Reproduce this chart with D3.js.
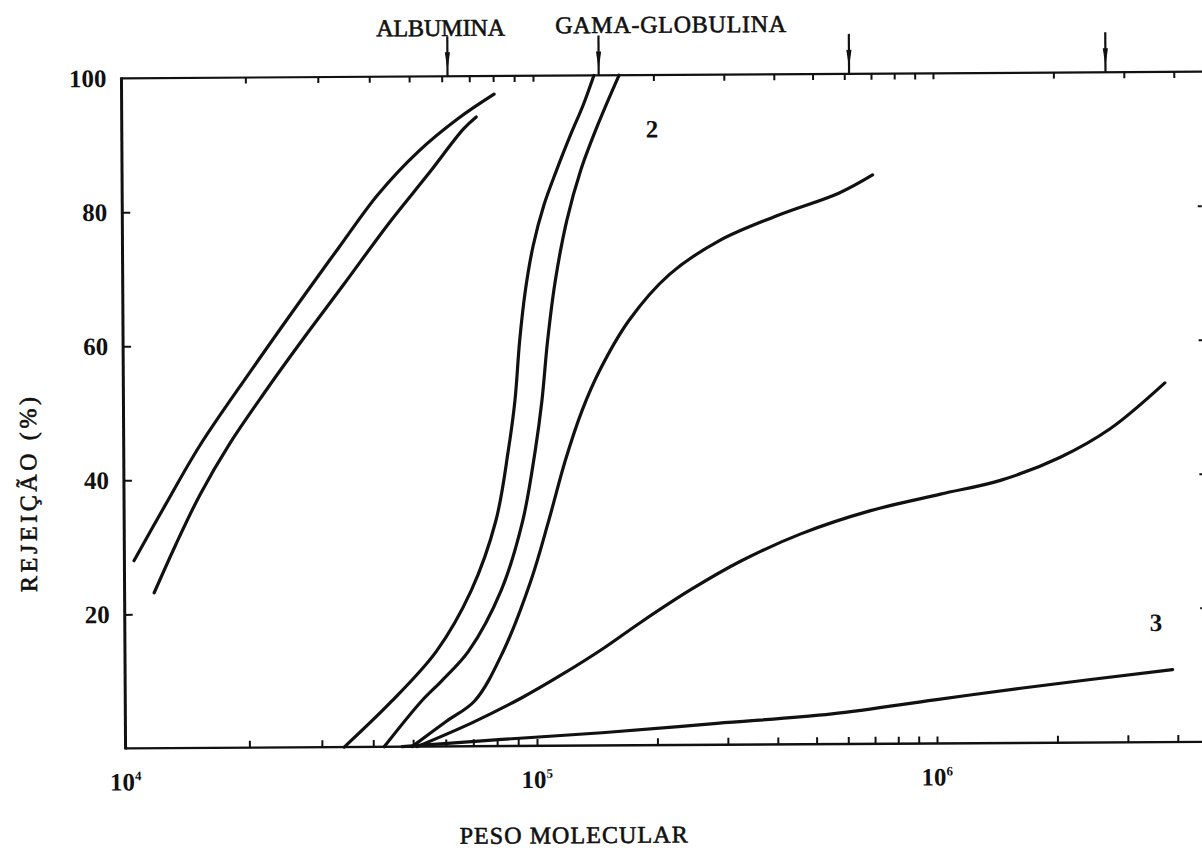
<!DOCTYPE html>
<html>
<head>
<meta charset="utf-8">
<script src="https://cdn.jsdelivr.net/npm/d3@7"></script>
<style>
body { margin: 0; background: #fff; }
svg { display: block; }
.type { font-family: "Liberation Serif", "Times New Roman", serif; font-size: 24px; fill: #111; stroke: #111; stroke-width: 0.6; }
.num { font-family: "Liberation Serif", "Times New Roman", serif; font-weight: bold; font-size: 25px; fill: #111; }
.curve { fill: none; stroke: #111; stroke-width: 3.2; stroke-linecap: round; }
</style>
</head>
<body>
<svg id="plot"></svg>
<script>
var width = 1202;
var height = 854;

// curves: [molecular weight, rejection %]
var curveA1 = [[10550, 28.0], [12600, 36.3], [15300, 45.1], [20300, 56.0], [26900, 66.5],
    [33600, 74.6], [41800, 82.4], [52500, 88.8], [65700, 93.7], [80400, 97.3]];
var curveA2 = [[11800, 23.2], [13300, 30.2], [15300, 37.8], [18100, 45.4], [22100, 53.1],
    [26900, 60.3], [34500, 69.1], [44400, 78.1], [55600, 85.5], [67600, 92.1], [72700, 93.9]];
var curveB1 = [[34000, 0], [44400, 6.8], [57100, 14.2], [69500, 23.2], [80000, 33.6], [86000, 44.1],
    [89400, 51.5], [92000, 60.5], [95100, 67.9], [99500, 74.6], [105900, 80.6], [114200, 85.9],
    [123800, 91.1], [133400, 95.6], [142000, 100]];
var curveB2 = [[42500, 0], [52500, 6.8], [58800, 9.8], [68400, 14.2], [82200, 23.2], [93000, 33.6],
    [100000, 44.1], [104100, 51.5], [107800, 60.5], [112900, 69.4], [120900, 78.4], [131100, 85.8],
    [145400, 92.8], [164100, 100]];
var curveB3 = [[49700, 0], [60400, 3.8], [70700, 6.8], [83100, 14.2], [97200, 24.7], [107800, 33.6],
    [118900, 42.6], [131100, 50.0], [145400, 56.0], [172800, 63.5], [217600, 70.2], [290100, 75.2],
    [409700, 79.0], [578800, 82.2], [703800, 84.9]];
var curveB4 = [[51100, 0], [69500, 3.5], [92000, 7.2], [115500, 10.6], [146200, 14.4], [183000, 18.4],
    [244100, 23.2], [325500, 27.4], [459800, 31.4], [687900, 34.8], [1029000, 37.2], [1454000, 39.2],
    [2054000, 42.6], [2738000, 46.8], [3758000, 53.6]];
var curveB5 = [[47000, 0], [82200, 1.0], [145400, 1.9], [281800, 3.2], [546500, 4.5], [988500, 6.5],
    [1641000, 8.2], [3890000, 10.8]];

var curves = [curveA1, curveA2, curveB1, curveB2, curveB3, curveB4, curveB5];

var curveLabels = ["2", "3"];
var curveLabelPos = [[198000, 92.0], [3540000, 17.9]];

var markerNames = ["ALBUMINA", "GAMA-GLOBULINA", "", ""];
var markerMW = [62000, 146000, 617000, 2700000];

var decades = [10000, 100000, 1000000];
var yTicks = [20, 40, 60, 80, 100];

var svg = d3.select("#plot")
    .attr("width", width)
    .attr("height", height);
svg.append("rect")
    .attr("width", width)
    .attr("height", height)
    .attr("fill", "#fff");

// the scan is tilted a little
var g = svg.append("g")
    .attr("transform", "rotate(-0.35,600,410)");

// graph paper decades are not quite even, so piecewise log
var xScale = d3.scaleLog()
    .domain(decades)
    .range([123.5, 535, 935]);
var yScale = d3.scaleLinear()
    .domain([0, 100])
    .range([745.5, 75.4]);

var minorTicks = [];
decades.forEach(function (d) {
    for (var k = 1; k < 10; k++) {
        if (d * k > 10000 && d * k <= 4000000) minorTicks.push(d * k);
    }
});

function styleAxis(sel) {
    sel.select(".domain").remove();
    sel.selectAll("line").attr("stroke", "#111").attr("stroke-width", 2);
}

// frame
var x0 = xScale(10000);
var yTop = yScale(100);
var yBot = yScale(0);
g.append("line")
    .attr("x1", x0).attr("x2", x0)
    .attr("y1", yTop - 1).attr("y2", yBot + 1)
    .attr("stroke", "#111").attr("stroke-width", 3);
g.append("line")
    .attr("x1", x0).attr("x2", width + 4)
    .attr("y1", yTop).attr("y2", yTop)
    .attr("stroke", "#111").attr("stroke-width", 2.2);
g.append("line")
    .attr("x1", x0).attr("x2", width + 4)
    .attr("y1", yBot).attr("y2", yBot)
    .attr("stroke", "#111").attr("stroke-width", 2.4);

g.append("g")
    .attr("transform", "translate(0," + yTop + ")")
    .call(d3.axisBottom(xScale).tickValues(minorTicks).tickSize(6).tickFormat(""))
    .call(styleAxis);
g.append("g")
    .attr("transform", "translate(0," + yBot + ")")
    .call(d3.axisTop(xScale).tickValues(minorTicks).tickSize(7).tickFormat(""))
    .call(styleAxis);

g.append("g")
    .attr("transform", "translate(" + x0 + ",0)")
    .call(d3.axisRight(yScale).tickValues(yTicks.slice(0, 4)).tickSize(8).tickFormat(""))
    .call(styleAxis);
g.append("g")
    .attr("transform", "translate(" + (width + 1) + ",0)")
    .call(d3.axisLeft(yScale).tickValues(yTicks.slice(0, 4)).tickSize(4).tickFormat(""))
    .call(styleAxis);

var yAxis = g.append("g")
    .attr("transform", "translate(" + x0 + ",0)")
    .call(d3.axisLeft(yScale).tickValues(yTicks).tickSize(0).tickPadding(15));
yAxis.select(".domain").remove();
yAxis.selectAll("text")
    .attr("class", "num")
    .attr("font-family", null)
    .attr("font-size", null)
    .attr("fill", null);

// decade labels 10^n
var decLabels = g.selectAll(".dec")
    .data(decades)
    .enter()
    .append("text")
    .attr("class", "num dec")
    .attr("text-anchor", "middle")
    .attr("x", function (d) { return xScale(d); })
    .attr("y", yBot + 42);
decLabels.append("tspan").text("10");
decLabels.append("tspan")
    .attr("dy", -10)
    .attr("font-size", 13)
    .text(function (d) { return Math.round(Math.log10(d)); });

// curves
var line = d3.line()
    .x(function (d) { return xScale(d[0]); })
    .y(function (d) { return yScale(d[1]); })
    .curve(d3.curveCatmullRom.alpha(0.5));

g.selectAll(".curve")
    .data(curves)
    .enter()
    .append("path")
    .attr("class", "curve")
    .attr("d", line);

g.selectAll(".clabel")
    .data(curveLabels)
    .enter()
    .append("text")
    .attr("class", "num clabel")
    .attr("text-anchor", "middle")
    .attr("dy", "0.35em")
    .attr("x", function (d, i) { return xScale(curveLabelPos[i][0]); })
    .attr("y", function (d, i) { return yScale(curveLabelPos[i][1]); })
    .text(function (d) { return d; });

// protein markers on the top edge
markerMW.forEach(function (mw) {
    var x = xScale(mw);
    g.append("line")
        .attr("x1", x).attr("x2", x)
        .attr("y1", yTop - 40).attr("y2", yTop)
        .attr("stroke", "#111").attr("stroke-width", 2.2);
    g.append("path")
        .attr("d", "M" + (x - 2.6) + "," + (yTop - 24) + "L" + (x + 2.6) + "," + (yTop - 24) + "L" + x + "," + (yTop - 6) + "Z")
        .attr("fill", "#111");
});

// typewriter lettering, stretched to the scanned widths
function typeText(x, y, len, txt, rot) {
    var t = g.append("text")
        .attr("class", "type")
        .attr("text-anchor", "middle")
        .attr("textLength", len)
        .attr("lengthAdjust", "spacing")
        .text(txt);
    if (rot) t.attr("transform", "translate(" + x + "," + y + ") rotate(-90)");
    else t.attr("x", x).attr("y", y);
    return t;
}

typeText(443, 35, 129, markerNames[0]);
typeText(673, 33, 231, markerNames[1]);
typeText(571, 843, 228, "PESO MOLECULAR");
typeText(36, 491, 195, "REJEIÇÃO (%)", true);
</script>
</body>
</html>
